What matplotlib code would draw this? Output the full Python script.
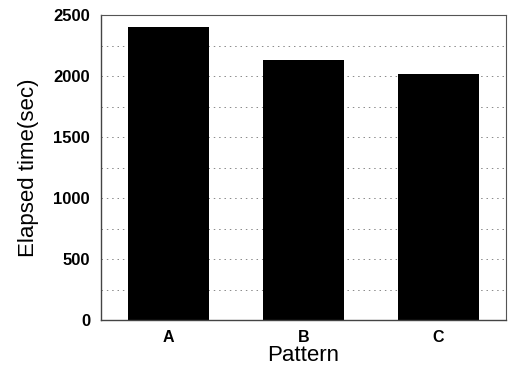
import matplotlib
matplotlib.use("Agg")
import matplotlib.pyplot as plt

# data
patterns = ["A", "B", "C"]
elapsed = [2400, 2130, 2020]
yticks = [0, 500, 1000, 1500, 2000, 2500]

plt.rcParams['font.family'] = ['Liberation Sans', 'DejaVu Sans']

fig = plt.figure(figsize=(5.11, 3.68), dpi=100)
ax = fig.add_axes([0.198, 0.130, 0.792, 0.829])

ax.bar(range(len(patterns)), elapsed, width=0.6, color="black", zorder=2)

ax.set_xlim(-0.5, 2.5)
ax.set_ylim(0, 2500)
ax.set_xticks(range(len(patterns)))
ax.set_xticklabels(patterns, fontweight="bold")
ax.set_yticks(yticks)
ax.set_yticklabels([str(v) for v in yticks], fontweight="bold")
ax.set_yticks([250, 750, 1250, 1750, 2250], minor=True)
ax.tick_params(axis="x", labelsize=11.5, length=0, pad=7)
ax.tick_params(axis="y", labelsize=12, length=0, pad=8)
ax.tick_params(axis="y", which="minor", length=0)

# dotted grid, faint like the scan
ax.grid(axis="y", which="both", linestyle=(0, (1.5, 4)), color="#888888", linewidth=0.7, zorder=0)

for s in ["left", "bottom"]:
    ax.spines[s].set_linewidth(1.0)
    ax.spines[s].set_color("#444444")
for s in ["top", "right"]:
    ax.spines[s].set_linewidth(0.8)
    ax.spines[s].set_color("#555555")

ax.set_xlabel("Pattern", fontsize=16, labelpad=0)
ax.set_ylabel("Elapsed time(sec)", fontsize=16, labelpad=10)

fig.savefig("out.png", dpi=100)
